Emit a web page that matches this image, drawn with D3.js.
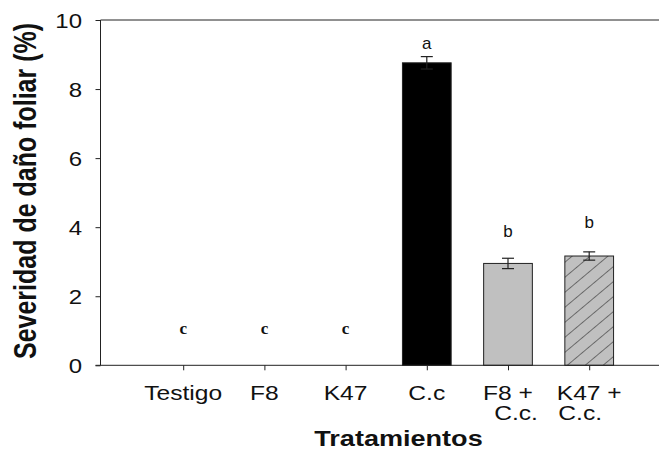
<!DOCTYPE html>
<html>
<head>
<meta charset="utf-8">
<script src="https://cdn.jsdelivr.net/npm/d3@7"></script>
<style>
  html, body { margin: 0; padding: 0; background: #fff; }
  svg { display: block; }
</style>
</head>
<body>
<div id="chart"></div>
<script>
// ---- data ----
const categories = ["Testigo", "F8", "K47", "C.c", "F8 +\nC.c.", "K47 +\nC.c."];
const means = [0, 0, 0, 8.76, 2.95, 3.165];
const errors = [0, 0, 0, 0.18, 0.15, 0.12];
const letters = ["c", "c", "c", "a", "b", "b"];
const letterLevels = [0.91, 0.91, 0.91, 9.16, 3.72, 3.97];
const yTicks = [0, 2, 4, 6, 8, 10];

// ---- layout ----
const W = 659, H = 451;
const stretch = 1.23;
const svg = d3.select("#chart").append("svg").attr("width", W).attr("height", H);

const defs = svg.append("defs");
const pat = defs.append("pattern")
  .attr("id", "hatch").attr("patternUnits", "userSpaceOnUse")
  .attr("width", 11.5).attr("height", 11.5)
  .attr("patternTransform", "rotate(50)");
pat.append("rect").attr("width", 11.5).attr("height", 11.5).attr("fill", "#c0c0c0");
pat.append("line").attr("x1", 0).attr("y1", 0).attr("x2", 0).attr("y2", 11.5)
  .attr("stroke", "#333").attr("stroke-width", 1.2);

const x = d3.scaleLinear().domain([0, 7]).range([102, 670.4]);
const y = d3.scaleLinear().domain([0, 10]).range([365.3, 20]);
const barW = x(0.6) - x(0);
const fills = ["#c0c0c0", "#c0c0c0", "#c0c0c0", "#000", "#c0c0c0", "url(#hatch)"];

const axisColor = "#222";
// top frame line
svg.append("line").attr("x1", 100.5).attr("x2", W).attr("y1", y(10)).attr("y2", y(10))
  .attr("stroke", axisColor).attr("stroke-width", 1);

// bars
const idx = d3.range(categories.length);
svg.append("g").selectAll("rect").data(idx).join("rect")
  .attr("x", i => x(i + 1) - barW / 2)
  .attr("width", barW)
  .attr("y", i => y(means[i]))
  .attr("height", i => y(0) - y(means[i]))
  .attr("fill", i => fills[i])
  .attr("stroke", i => means[i] > 0 ? "#222" : "none")
  .attr("stroke-width", 1);

// error bars
const eb = svg.append("g").attr("stroke", "#222").attr("stroke-width", 1.2);
idx.filter(i => errors[i] > 0).forEach(i => {
  const cx = x(i + 1);
  eb.append("line").attr("x1", cx).attr("x2", cx)
    .attr("y1", y(means[i] - errors[i])).attr("y2", y(means[i] + errors[i]));
  [means[i] - errors[i], means[i] + errors[i]].forEach(v => {
    eb.append("line").attr("x1", cx - 6).attr("x2", cx + 6).attr("y1", y(v)).attr("y2", y(v));
  });
});

// y axis
const yAxis = d3.axisLeft(y).tickValues(yTicks).tickSize(5).tickFormat(d3.format("d"));
const gy = svg.append("g").attr("transform", "translate(100.5,0)").call(yAxis);
gy.select(".domain").attr("stroke", axisColor).attr("d", `M0,${y(10)}V${y(0)}`);
gy.selectAll(".tick line").attr("stroke", axisColor);
gy.selectAll(".tick text").remove();
gy.selectAll(".tick").append("text")
  .attr("transform", `translate(-18.5,7) scale(${stretch},1)`)
  .attr("text-anchor", "end")
  .attr("fill", "#111")
  .style("font-family", "'Liberation Sans', Arial, sans-serif")
  .style("font-size", "19.5px")
  .text(d => d);

// x axis
const xAxis = d3.axisBottom(x).tickValues(idx.map(i => i + 1)).tickSize(5).tickFormat("");
const gx = svg.append("g").attr("transform", `translate(0,${y(0)})`).call(xAxis);
gx.select(".domain").attr("stroke", axisColor).attr("d", `M95.5,0H${W}`);
gx.selectAll(".tick line").attr("stroke", axisColor);

const line2Shift = {4: 8, 5: -9};
idx.forEach(i => {
  const parts = categories[i].split("\n");
  parts.forEach((p, k) => {
    const dx = k === 1 ? (line2Shift[i] || 0) : 0;
    svg.append("text")
      .attr("transform", `translate(${x(i + 1) + dx},${399.5 + k * 20.5}) scale(${stretch},1)`)
      .attr("text-anchor", "middle")
      .attr("fill", "#111")
      .style("font-family", "'Liberation Sans', Arial, sans-serif")
      .style("font-size", "20px")
      .text(p);
  });
});

// significance letters
idx.forEach(i => {
  const serif = letters[i] === "c";
  svg.append("text")
    .attr("x", x(i + 1)).attr("y", y(letterLevels[i]))
    .attr("text-anchor", "middle")
    .attr("fill", "#111")
    .style("font-family", serif ? "'Liberation Serif', 'Times New Roman', serif" : "'Liberation Sans', Arial, sans-serif")
    .style("font-size", serif ? "17px" : "17px")
    .style("font-weight", serif ? "bold" : "normal")
    .text(letters[i]);
});

// axis titles
svg.append("text")
  .attr("transform", `translate(35.5,191) scale(${stretch},1) rotate(-90)`)
  .attr("text-anchor", "middle")
  .attr("fill", "#111")
  .style("font-family", "'Liberation Sans', Arial, sans-serif")
  .style("font-size", "25px").style("font-weight", "bold")
  .text("Severidad de daño foliar (%)");

svg.append("text")
  .attr("transform", `translate(398.5,446) scale(${stretch},1)`)
  .attr("text-anchor", "middle")
  .attr("fill", "#111")
  .style("font-family", "'Liberation Sans', Arial, sans-serif")
  .style("font-size", "22px").style("font-weight", "bold")
  .text("Tratamientos");
</script>
</body>
</html>
